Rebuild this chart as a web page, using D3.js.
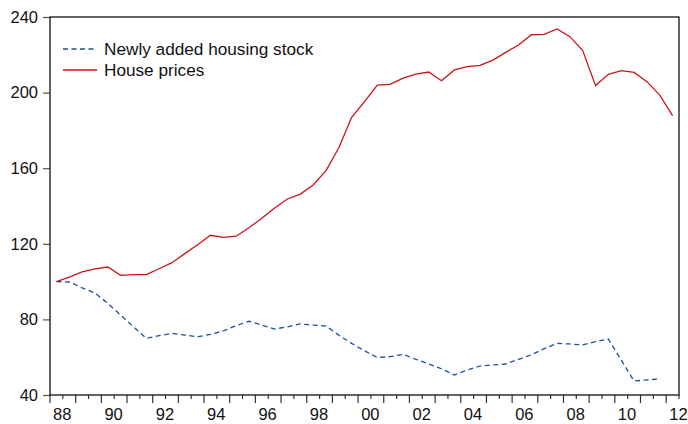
<!DOCTYPE html>
<html>
<head>
<meta charset="utf-8">
<script src="https://cdn.jsdelivr.net/npm/d3@7"></script>
<style>
body { margin: 0; background: #fff; }
text { font-family: "Liberation Sans", Arial, sans-serif; }
</style>
</head>
<body>
<div id="chart"></div>
<script>
let w = 688;
let h = 424;

// semiannual, 1988S1 .. 2012S1
let firstYear = 1988;
let housePrices = [100, 102.4, 105.1, 106.7, 107.7, 103.3, 103.7, 103.7, 106.8, 110,
  114.8, 119.5, 124.5, 123.4, 124, 128.5, 133.5, 138.9, 143.7, 146.3,
  151.1, 158.7, 170.8, 186.9, 195.2, 204, 204.4, 207.7, 209.8, 210.9,
  206.3, 212, 213.7, 214.4, 217.2, 221.3, 225.2, 230.6, 230.8, 233.7,
  229.6, 222.2, 203.7, 209.7, 211.6, 210.7, 205.8, 198.7, 187.8];
let newStock = [100, 99.8, 96.7, 94, 88.5, 82.3, 76.1, 70, 71.4, 72.6,
  71.7, 70.8, 72.1, 73.9, 76.7, 79, 77, 74.9, 76.1, 77.6,
  77, 76.5, 71.7, 67.3, 63.4, 59.8, 60.3, 61.5, 58.9, 56.4,
  53.9, 50.6, 53.2, 55.3, 55.9, 56.4, 58.9, 61.3, 64.5, 67.3,
  67, 66.5, 68.2, 69.6, 58.5, 47.4, 48, 48.5];
let yTicks = [40, 80, 120, 160, 200, 240];
let xLabelYears = [1988, 1990, 1992, 1994, 1996, 1998, 2000, 2002, 2004, 2006, 2008, 2010, 2012];
let xLabels = ["88", "90", "92", "94", "96", "98", "00", "02", "04", "06", "08", "10", "12"];
let seriesNames = ["Newly added housing stock", "House prices"];

let plotL = 50, plotR = 679, plotT = 17, plotB = 395;
let nPeriods = housePrices.length;
let fs = "16.5px";

let svg = d3.select("#chart")
  .append("svg")
  .attr("width", w)
  .attr("height", h);

let x = d3.scaleLinear().domain([0, nPeriods]).range([plotL, plotR]);
let y = d3.scaleLinear().domain([40, 240]).range([plotB, plotT]);

// y axis
let yAxis = svg.append("g")
  .attr("transform", "translate(" + plotL + ",0)")
  .call(d3.axisLeft(y).tickValues(yTicks).tickSize(7).tickSizeOuter(0).tickPadding(5));
yAxis.select(".domain").remove();
yAxis.selectAll("line").attr("stroke", "#555").attr("stroke-width", 1.2);
yAxis.selectAll("text")
  .style("font-family", "'Liberation Sans', Arial, sans-serif")
  .style("font-size", fs)
  .attr("fill", "#111");

// x ticks at each half-year boundary, long at year boundaries
let xt = d3.range(0, nPeriods + 1);
svg.append("g").selectAll("line")
  .data(xt)
  .join("line")
  .attr("x1", d => x(d))
  .attr("x2", d => x(d))
  .attr("y1", plotB)
  .attr("y2", d => d % 2 == 0 ? plotB + 8 : plotB + 4)
  .attr("stroke", "#333")
  .attr("stroke-width", 1.2);

svg.append("g").selectAll("text")
  .data(xLabelYears)
  .join("text")
  .attr("x", d => x((d - firstYear) * 2 + 1) - 0.6)
  .attr("y", 419.8)
  .attr("text-anchor", "middle")
  .attr("font-size", fs)
  .attr("fill", "#111")
  .text((d, i) => xLabels[i]);

// frame
svg.append("rect")
  .attr("x", plotL)
  .attr("y", plotT)
  .attr("width", plotR - plotL)
  .attr("height", plotB - plotT)
  .attr("fill", "none")
  .attr("stroke", "#111")
  .attr("stroke-width", 1.3);

let line = d3.line()
  .x((d, i) => x(i + 0.5))
  .y(d => y(d));

svg.append("path")
  .datum(newStock)
  .attr("d", line)
  .attr("fill", "none")
  .attr("stroke", "#1d5299")
  .attr("stroke-width", 1.3)
  .attr("stroke-dasharray", "5,3.5");

svg.append("path")
  .datum(housePrices)
  .attr("d", line)
  .attr("fill", "none")
  .attr("stroke", "#cc1418")
  .attr("stroke-width", 1.3);

// legend
let legend = svg.append("g");
let legendColors = ["#1d5299", "#cc1418"];
let legendDash = ["5,3.5", null];
seriesNames.forEach(function(name, i) {
  let ly = 49 + i * 21;
  legend.append("line")
    .attr("x1", 63)
    .attr("x2", 97)
    .attr("y1", ly)
    .attr("y2", ly)
    .attr("stroke", legendColors[i])
    .attr("stroke-width", 1.3)
    .attr("stroke-dasharray", legendDash[i]);
  legend.append("text")
    .attr("x", 104)
    .attr("y", ly + 5.8)
    .attr("font-size", "17.2px")
    .attr("fill", "#111")
    .text(name);
});
</script>
</body>
</html>
